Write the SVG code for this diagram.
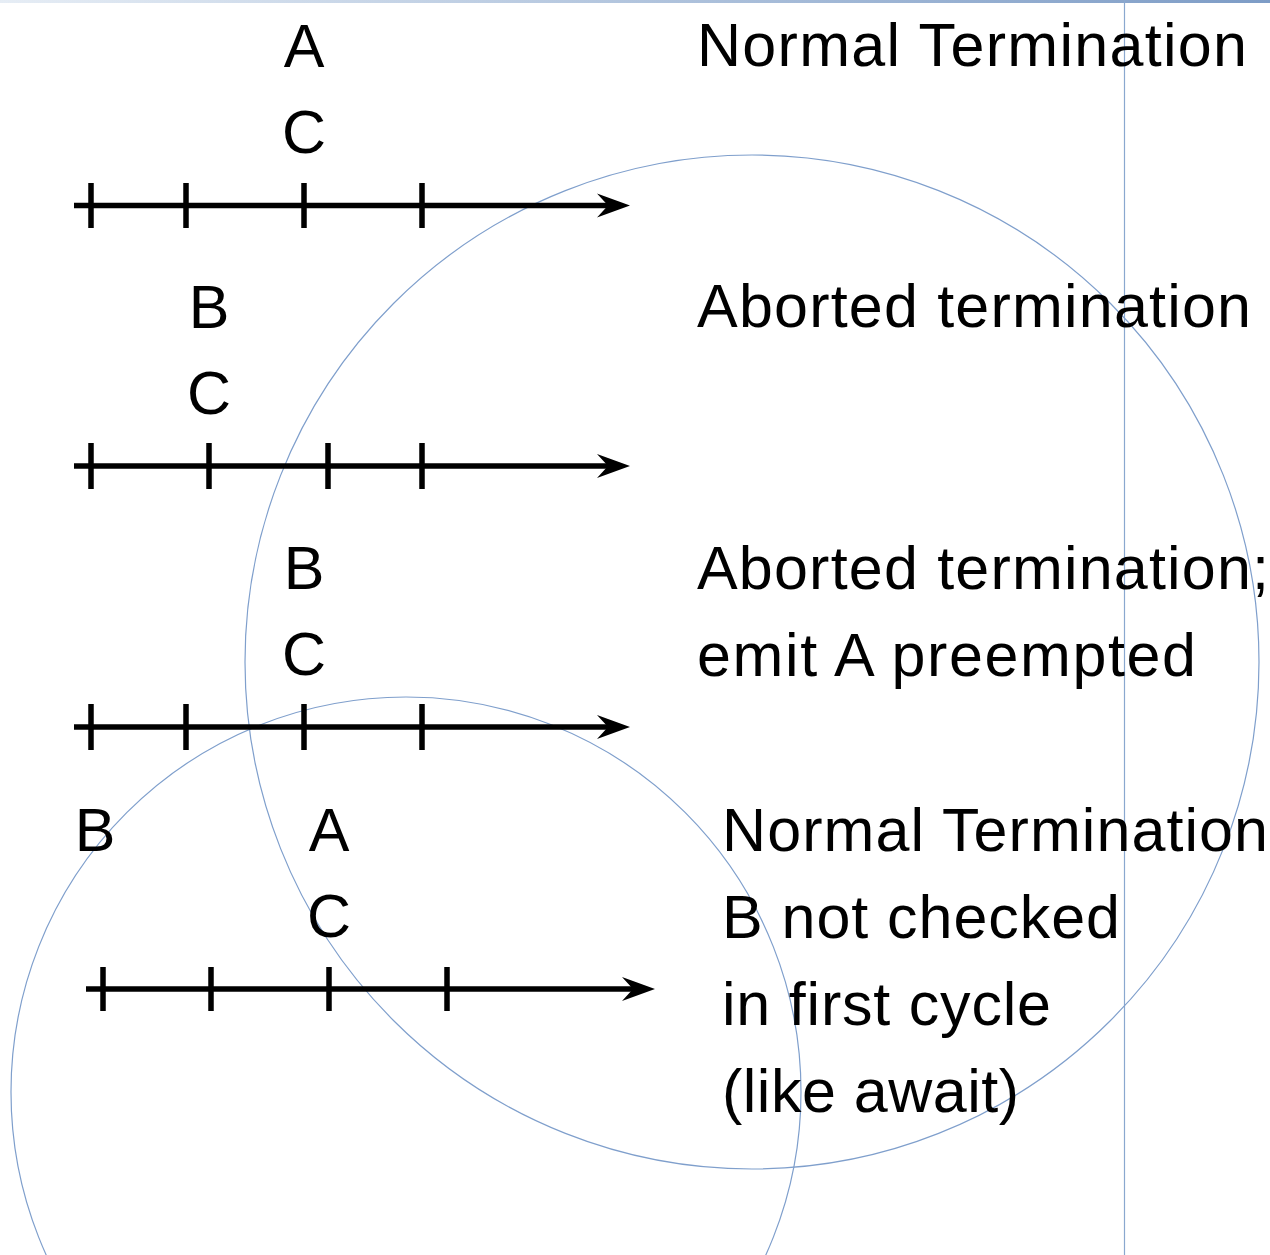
<svg xmlns="http://www.w3.org/2000/svg" width="1270" height="1255" viewBox="0 0 1270 1255">
  <defs>
    <linearGradient id="topBar" x1="0" y1="0" x2="1" y2="0">
      <stop offset="0" stop-color="#e6edf5"/>
      <stop offset="1" stop-color="#7d9cc6"/>
    </linearGradient>
    <marker id="arrow" viewBox="0 0 34 26" refX="12" refY="13" markerWidth="34" markerHeight="26" markerUnits="userSpaceOnUse" orient="auto">
      <path d="M34,13 L1,1 L12,13 L1,25 Z" fill="#000"/>
    </marker>
    <style>
      .axis { stroke: #000; stroke-width: 5.5; fill: none; }
      .tick { stroke: #000; stroke-width: 5.5; }
      .lbl { font-family: "Liberation Sans", Arial, sans-serif; font-size: 61px; fill: #000; }
      .mid { text-anchor: middle; }
      .guide { fill: none; stroke: #7f9fcc; stroke-width: 1.2; }
    </style>
  </defs>

  <rect width="1270" height="1255" fill="#fff"/>

  <!-- page frame lines -->
  <rect x="0" y="0" width="1270" height="3" fill="url(#topBar)"/>
  <line x1="1124.5" y1="0" x2="1124.5" y2="1255" stroke="#8aa8cf" stroke-width="1.2"/>

  <!-- overlay circles -->
  <g id="circles">
    <circle class="guide" cx="752" cy="662" r="507"/>
    <circle class="guide" cx="406" cy="1092" r="395"/>
  </g>

  <!-- timelines -->
  <g id="connectors">
    <g id="timeline1">
      <line class="axis" x1="74" y1="205.5" x2="608" y2="205.5" marker-end="url(#arrow)"/>
      <path class="tick" d="M91,183V228M186,183V228M304,183V228M422,183V228"/>
    </g>
    <g id="timeline2">
      <line class="axis" x1="74" y1="466" x2="608" y2="466" marker-end="url(#arrow)"/>
      <path class="tick" d="M91,443V489M209,443V489M328,443V489M422,443V489"/>
    </g>
    <g id="timeline3">
      <line class="axis" x1="74" y1="727" x2="608" y2="727" marker-end="url(#arrow)"/>
      <path class="tick" d="M91,704V750M186,704V750M304,704V750M422,704V750"/>
    </g>
    <g id="timeline4">
      <line class="axis" x1="86" y1="989" x2="633" y2="989" marker-end="url(#arrow)"/>
      <path class="tick" d="M103,967V1011M211,967V1011M329,967V1011M447,967V1011"/>
    </g>
  </g>

  <!-- signal labels -->
  <g id="case1">
    <text class="lbl mid" x="304" y="67">A</text>
    <text class="lbl mid" x="304" y="153">C</text>
    <text class="lbl" x="697" y="66" textLength="550" lengthAdjust="spacing">Normal Termination</text>
  </g>
  <g id="case2">
    <text class="lbl mid" x="209" y="328">B</text>
    <text class="lbl mid" x="209" y="414">C</text>
    <text class="lbl" x="697" y="327" textLength="554" lengthAdjust="spacing">Aborted termination</text>
  </g>
  <g id="case3">
    <text class="lbl mid" x="304" y="589">B</text>
    <text class="lbl mid" x="304" y="675">C</text>
    <text class="lbl" x="697" y="589" textLength="572" lengthAdjust="spacing">Aborted termination;</text>
    <text class="lbl" x="697" y="676" textLength="499" lengthAdjust="spacing">emit A preempted</text>
  </g>
  <g id="case4">
    <text class="lbl mid" x="95" y="851">B</text>
    <text class="lbl mid" x="329" y="851">A</text>
    <text class="lbl mid" x="329" y="937">C</text>
    <text class="lbl" x="722" y="851" textLength="546" lengthAdjust="spacing">Normal Termination</text>
    <text class="lbl" x="722" y="938" textLength="398" lengthAdjust="spacing">B not checked</text>
    <text class="lbl" x="722" y="1025" textLength="329" lengthAdjust="spacing">in first cycle</text>
    <text class="lbl" x="722" y="1112" textLength="297" lengthAdjust="spacing">(like await)</text>
  </g>
</svg>
